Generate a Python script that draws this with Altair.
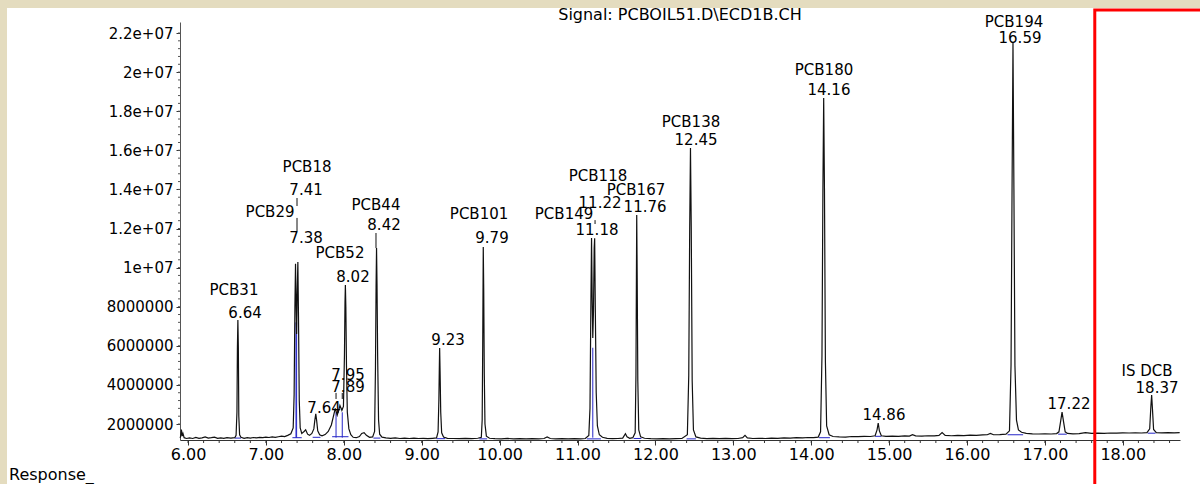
import altair as alt
import pandas as pd

# ---------------- data ----------------
# detector trace: retention time (min) and response
trace_time = [
    5.897, 5.905, 5.915, 5.925, 5.935, 5.95, 5.98, 6.02, 6.06, 6.10, 6.14, 6.18, 6.22, 6.26, 6.30, 6.34,
    6.38, 6.42, 6.46, 6.50, 6.55, 6.60, 6.617, 6.628, 6.634, 6.640, 6.646, 6.652, 6.662, 6.68, 6.72, 6.76,
    6.80, 6.84, 6.88, 6.92, 6.96, 7.00, 7.04, 7.08, 7.12, 7.16, 7.20, 7.24, 7.28, 7.32, 7.350, 7.362,
    7.372, 7.380, 7.387, 7.394, 7.401, 7.410, 7.418, 7.428, 7.440, 7.46, 7.49, 7.51, 7.535, 7.56,
    7.59, 7.615, 7.628, 7.640, 7.652, 7.665, 7.69, 7.72, 7.76, 7.80, 7.84, 7.870, 7.890, 7.915,
    7.935, 7.950, 7.975, 7.995, 8.008, 8.015, 8.020, 8.026, 8.034, 8.045, 8.065, 8.09, 8.12, 8.16,
    8.20, 8.23, 8.26, 8.29, 8.33, 8.37, 8.395, 8.406, 8.414, 8.420, 8.426, 8.434, 8.446, 8.46,
    8.49, 8.54, 8.60, 8.66, 8.72, 8.78, 8.84, 8.90, 8.96, 9.02, 9.08, 9.14, 9.19, 9.210, 9.220,
    9.226, 9.230, 9.236, 9.244, 9.256, 9.28, 9.33, 9.40, 9.48, 9.56, 9.64, 9.72, 9.765, 9.776,
    9.783, 9.790, 9.796, 9.803, 9.812, 9.83, 9.87, 9.94, 10.02, 10.10, 10.18, 10.26, 10.34, 10.42,
    10.50, 10.57, 10.61, 10.65, 10.72, 10.80, 10.88, 10.96, 11.04, 11.10, 11.145, 11.160, 11.170,
    11.180, 11.188, 11.196, 11.205, 11.214, 11.220, 11.228, 11.240, 11.255, 11.28, 11.32, 11.38,
    11.45, 11.52, 11.58, 11.615, 11.635, 11.67, 11.71, 11.740, 11.750, 11.756, 11.760, 11.766,
    11.774, 11.786, 11.81, 11.86, 11.94, 12.02, 12.10, 12.18, 12.26, 12.34, 12.410, 12.428, 12.440,
    12.450, 12.460, 12.472, 12.488, 12.52, 12.58, 12.66, 12.74, 12.82, 12.90, 12.98, 13.06, 13.12,
    13.15, 13.18, 13.25, 13.33, 13.41, 13.49, 13.57, 13.65, 13.73, 13.81, 13.89, 13.96, 14.03,
    14.09, 14.120, 14.138, 14.150, 14.160, 14.170, 14.182, 14.198, 14.23, 14.28, 14.36, 14.44,
    14.52, 14.60, 14.68, 14.76, 14.82, 14.845, 14.860, 14.875, 14.90, 14.96, 15.04, 15.12, 15.20,
    15.26, 15.30, 15.34, 15.42, 15.50, 15.58, 15.64, 15.68, 15.72, 15.80, 15.88, 15.96, 16.04,
    16.12, 16.20, 16.26, 16.30, 16.34, 16.42, 16.50, 16.545, 16.565, 16.578, 16.590, 16.602,
    16.615, 16.635, 16.66, 16.70, 16.76, 16.84, 16.92, 17.00, 17.08, 17.15, 17.18, 17.20, 17.22,
    17.24, 17.26, 17.29, 17.36, 17.44, 17.52, 17.60, 17.68, 17.76, 17.84, 17.92, 18.00, 18.08,
    18.16, 18.24, 18.31, 18.345, 18.360, 18.370, 18.380, 18.395, 18.43, 18.50, 18.58, 18.66, 18.73,
]
trace_resp = [
    1.30e6, 1.36e6, 1.72e6, 1.38e6, 1.52e6, 1.30e6, 1.26e6, 1.29e6, 1.26e6, 1.31e6, 1.27e6, 1.29e6, 1.34e6, 1.28e6, 1.30e6, 1.33e6,
    1.27e6, 1.29e6, 1.27e6, 1.30e6, 1.28e6, 1.30e6, 1.42e6, 2.6e6, 5.9e6, 7.32e6, 5.9e6, 2.4e6, 1.45e6, 1.32e6, 1.27e6, 1.30e6,
    1.28e6, 1.31e6, 1.29e6, 1.32e6, 1.30e6, 1.33e6, 1.31e6, 1.34e6, 1.32e6, 1.35e6, 1.38e6, 1.36e6, 1.42e6, 1.50e6, 1.80e6, 3.5e6,
    8.0e6, 1.02e7, 8.2e6, 6.6e6, 8.6e6, 1.029e7, 7.5e6, 3.2e6, 1.80e6, 1.52e6, 1.62e6, 1.70e6, 1.48e6, 1.42e6,
    1.52e6, 1.75e6, 2.2e6, 2.52e6, 2.15e6, 1.65e6, 1.45e6, 1.40e6, 1.46e6, 1.62e6, 1.95e6, 2.45e6, 2.80e6, 2.45e6,
    2.70e6, 2.95e6, 2.70e6, 2.9e6, 5.5e6, 8.2e6, 9.11e6, 8.0e6, 5.0e6, 2.6e6, 1.75e6, 1.45e6, 1.32e6, 1.30e6,
    1.36e6, 1.52e6, 1.56e6, 1.42e6, 1.32e6, 1.34e6, 1.62e6, 4.8e6, 9.0e6, 1.10e7, 9.2e6, 5.5e6, 2.2e6, 1.48e6,
    1.33e6, 1.29e6, 1.27e6, 1.29e6, 1.26e6, 1.28e6, 1.26e6, 1.28e6, 1.26e6, 1.27e6, 1.25e6, 1.27e6, 1.29e6, 1.60e6, 3.2e6,
    4.9e6, 5.89e6, 4.6e6, 2.6e6, 1.55e6, 1.33e6, 1.27e6, 1.26e6, 1.25e6, 1.26e6, 1.25e6, 1.27e6, 1.32e6, 2.2e6,
    6.0e6, 1.105e7, 8.8e6, 4.6e6, 2.0e6, 1.38e6, 1.27e6, 1.25e6, 1.24e6, 1.26e6, 1.24e6, 1.25e6, 1.24e6, 1.25e6,
    1.24e6, 1.26e6, 1.34e6, 1.26e6, 1.24e6, 1.25e6, 1.24e6, 1.25e6, 1.24e6, 1.26e6, 1.42e6, 2.8e6, 7.5e6,
    1.151e7, 8.5e6, 6.4e6, 7.8e6, 1.10e7, 1.15e7, 8.0e6, 3.6e6, 1.9e6, 1.45e6, 1.32e6, 1.27e6,
    1.25e6, 1.26e6, 1.28e6, 1.50e6, 1.35e6, 1.27e6, 1.30e6, 1.55e6, 4.5e6, 9.5e6, 1.269e7, 9.5e6,
    4.2e6, 1.7e6, 1.34e6, 1.27e6, 1.25e6, 1.24e6, 1.25e6, 1.24e6, 1.25e6, 1.26e6, 1.45e6, 4.5e6, 1.20e7,
    1.612e7, 1.20e7, 4.2e6, 1.7e6, 1.34e6, 1.28e6, 1.25e6, 1.26e6, 1.25e6, 1.26e6, 1.25e6, 1.26e6, 1.30e6,
    1.42e6, 1.29e6, 1.26e6, 1.27e6, 1.26e6, 1.28e6, 1.27e6, 1.29e6, 1.28e6, 1.30e6, 1.29e6, 1.31e6, 1.30e6,
    1.33e6, 1.6e6, 5.5e6, 1.40e7, 1.868e7, 1.40e7, 5.2e6, 1.9e6, 1.45e6, 1.36e6, 1.34e6, 1.33e6,
    1.36e6, 1.35e6, 1.37e6, 1.36e6, 1.40e6, 1.70e6, 2.05e6, 1.65e6, 1.40e6, 1.37e6, 1.38e6, 1.37e6, 1.39e6,
    1.38e6, 1.45e6, 1.39e6, 1.38e6, 1.40e6, 1.39e6, 1.42e6, 1.56e6, 1.42e6, 1.40e6, 1.42e6, 1.41e6, 1.43e6,
    1.42e6, 1.44e6, 1.45e6, 1.52e6, 1.45e6, 1.46e6, 1.48e6, 1.65e6, 5.0e6, 1.40e7, 2.149e7, 1.40e7,
    5.0e6, 2.2e6, 1.70e6, 1.58e6, 1.52e6, 1.50e6, 1.49e6, 1.50e6, 1.49e6, 1.51e6, 1.60e6, 2.1e6, 2.61e6,
    2.1e6, 1.60e6, 1.52e6, 1.50e6, 1.51e6, 1.56e6, 1.52e6, 1.53e6, 1.52e6, 1.54e6, 1.53e6, 1.55e6, 1.54e6,
    1.55e6, 1.54e6, 1.56e6, 1.75e6, 2.9e6, 3.48e6, 2.8e6, 1.72e6, 1.56e6, 1.55e6, 1.56e6, 1.55e6, 1.56e6,
]

# compound name labels
name_text = ["PCB31", "PCB18", "PCB29", "PCB44", "PCB52", "PCB101", "PCB149",
             "PCB118", "PCB167", "PCB138", "PCB180", "PCB194", "IS DCB"]
name_time = [6.590, 7.528, 7.053, 8.413, 7.951, 9.736, 10.827,
             11.263, 11.751, 12.457, 14.164, 16.603, 18.311]
name_level = [8.855e6, 1.515e7, 1.284e7, 1.320e7, 1.075e7, 1.274e7, 1.274e7,
              1.468e7, 1.397e7, 1.745e7, 2.011e7, 2.256e7, 4.711e6]

# retention-time labels
rt_text = ["6.64", "7.41", "7.38", "8.42", "8.02", "7.95", "7.89", "7.64", "9.23", "9.79",
           "11.18", "11.22", "11.76", "12.45", "14.16", "14.86", "16.59", "17.22", "18.37"]
rt_time = [6.732, 7.515, 7.515, 8.516, 8.118, 8.054, 8.054, 7.746, 9.338, 9.902,
           11.250, 11.289, 11.867, 12.521, 14.228, 14.934, 16.680, 17.309, 18.439]
rt_level = [7.678e6, 1.397e7, 1.151e7, 1.218e7, 9.52e6, 4.506e6, 3.894e6, 2.819e6, 6.297e6, 1.151e7,
            1.192e7, 1.331e7, 1.310e7, 1.653e7, 1.908e7, 2.461e6, 2.175e7, 3.023e6, 3.842e6]

# label connectors (time, upper response, lower response)
conn_time = [7.399, 7.399, 8.413, 11.225, 7.90, 7.98]
conn_top = [1.356e7, 1.254e7, 1.177e7, 1.243e7, 3.59e6, 3.59e6]
conn_bottom = [1.315e7, 1.187e7, 1.10e7, 1.223e7, 3.28e6, 3.28e6]

# blue integration baselines (start, end, level)
base_start = [6.60, 7.34, 7.60, 7.85, 8.38, 9.19, 9.74, 11.12, 11.72, 12.40, 14.10, 14.82, 16.52, 17.17, 18.32]
base_end = [6.68, 7.46, 7.70, 8.06, 8.47, 9.30, 9.84, 11.30, 11.82, 12.52, 14.24, 14.90, 16.72, 17.28, 18.42]
base_level = [1.28e6, 1.30e6, 1.32e6, 1.35e6, 1.28e6, 1.25e6, 1.24e6, 1.24e6, 1.26e6, 1.24e6,
              1.30e6, 1.37e6, 1.45e6, 1.48e6, 1.53e6]
# blue drop lines (time, top response)
drop_time = [7.386, 7.394, 7.90, 7.98, 11.196]
drop_top = [7.2e6, 7.2e6, 2.6e6, 2.6e6, 5.9e6]

x_ticks = [6, 7, 8, 9, 10, 11, 12, 13, 14, 15, 16, 17, 18]
y_ticks = [2e6, 4e6, 6e6, 8e6, 1e7, 1.2e7, 1.4e7, 1.6e7, 1.8e7, 2e7, 2.2e7]
x_minor = [round(6 + 0.2 * i, 1) for i in range(64)]
y_minor = [2e6 + 4e5 * i for i in range(51)]

red_box_start = 17.64
title_text = "Signal: PCBOIL51.D\\ECD1B.CH"
y_title_text = "Response_"

# ---------------- chart ----------------
FONT = "DejaVu Sans"
X_DOMAIN = [5.897, 18.734]
Y_DOMAIN = [1.182e6, 2.2563e7]

xs = alt.Scale(domain=X_DOMAIN, nice=False, zero=False)
ys = alt.Scale(domain=Y_DOMAIN, nice=False, zero=False)

trace_df = pd.DataFrame({"t": trace_time, "v": trace_resp})
names_df = pd.DataFrame({"t": name_time, "v": name_level, "label": name_text})
rt_df = pd.DataFrame({"t": rt_time, "v": rt_level, "label": rt_text})
conn_df = pd.DataFrame({"t": conn_time, "v1": conn_top, "v2": conn_bottom})
base_df = pd.DataFrame({"t1": base_start, "t2": base_end, "v": base_level})
drop_df = pd.DataFrame({"t": drop_time, "v": drop_top})
drop_df["v0"] = [Y_DOMAIN[0] + 1.2e5] * len(drop_df)
xminor_df = pd.DataFrame({"t": x_minor})
yminor_df = pd.DataFrame({"v": y_minor})
one = pd.DataFrame({"k": [0]})

x_axis = alt.Axis(values=x_ticks, format=".2f", title=None, grid=False,
                  tickSize=5, labelPadding=1, labelFlush=False, labelOverlap=False,
                  labelFont=FONT, labelFontSize=16, labelColor="black",
                  domainColor="#333333", tickColor="#333333")
y_axis = alt.Axis(values=y_ticks, title=None, grid=False,
                  labelExpr="datum.value >= 1e7 ? replace(format(datum.value, '.2~e'), 'e+7', 'e+07') : format(datum.value, 'd')",
                  tickSize=4, labelPadding=3, labelFont=FONT, labelFontSize=15,
                  labelColor="black", domainColor="#555555", tickColor="#333333")

beige = "#E4DCBF"
top_strip = alt.Chart(one).mark_rect(color=beige).encode(
    x=alt.value(-180), x2=alt.value(1020), y=alt.value(-22), y2=alt.value(-14))
left_strip = alt.Chart(one).mark_rect(color=beige).encode(
    x=alt.value(-180), x2=alt.value(-173), y=alt.value(-22), y2=alt.value(462))

base_lines = alt.Chart(base_df).mark_rule(color="#2626C8", strokeWidth=1).encode(
    x=alt.X("t1:Q", scale=xs, axis=x_axis), x2="t2:Q",
    y=alt.Y("v:Q", scale=ys, axis=y_axis))
drops = alt.Chart(drop_df).mark_rule(color="#2626C8", strokeWidth=1).encode(
    x=alt.X("t:Q", scale=xs), y=alt.Y("v:Q", scale=ys), y2="v0:Q")

trace = alt.Chart(trace_df).mark_line(color="#111111", strokeWidth=1.2).encode(
    x=alt.X("t:Q", scale=xs), y=alt.Y("v:Q", scale=ys))

xminor = alt.Chart(xminor_df).mark_rule(color="#333333").encode(
    x=alt.X("t:Q", scale=xs), y=alt.value(418), y2=alt.value(421))
yminor = alt.Chart(yminor_df).mark_rule(color="#555555").encode(
    y=alt.Y("v:Q", scale=ys), x=alt.value(-2), x2=alt.value(0))

connectors = alt.Chart(conn_df).mark_rule(color="#111111", strokeWidth=1).encode(
    x=alt.X("t:Q", scale=xs), y=alt.Y("v1:Q", scale=ys), y2="v2:Q")

name_labels = alt.Chart(names_df).mark_text(
    font=FONT, fontSize=15, color="black", align="center", baseline="middle").encode(
    x=alt.X("t:Q", scale=xs), y=alt.Y("v:Q", scale=ys), text="label:N")
rt_labels = alt.Chart(rt_df).mark_text(
    font=FONT, fontSize=15, color="black", align="center", baseline="middle").encode(
    x=alt.X("t:Q", scale=xs), y=alt.Y("v:Q", scale=ys), text="label:N")

red_box = alt.Chart(one).mark_rect(fillOpacity=0, stroke="#FF0000", strokeWidth=3).encode(
    x=alt.datum(red_box_start, scale=xs), x2=alt.value(1040),
    y=alt.value(-12), y2=alt.value(480))

title_mark = alt.Chart(one).mark_text(
    text=title_text, font=FONT, fontSize=16, color="black", align="center", baseline="middle").encode(
    x=alt.value(500), y=alt.value(-7))
resp_mark = alt.Chart(one).mark_text(
    text=y_title_text, font=FONT, fontSize=16, color="black", align="left", baseline="middle").encode(
    x=alt.value(-171), y=alt.value(453))

chart = alt.layer(
    top_strip, left_strip, base_lines, drops, trace, xminor, yminor,
    connectors, name_labels, rt_labels, red_box, title_mark, resp_mark
).properties(
    width=1000, height=418,
    autosize=alt.AutoSizeParams(type="none"),
    padding={"left": 180, "top": 22, "right": 20, "bottom": 44},
    background="white",
).configure_view(stroke=None)

chart.save("out.html", embed_options={"renderer": "svg", "actions": False})
